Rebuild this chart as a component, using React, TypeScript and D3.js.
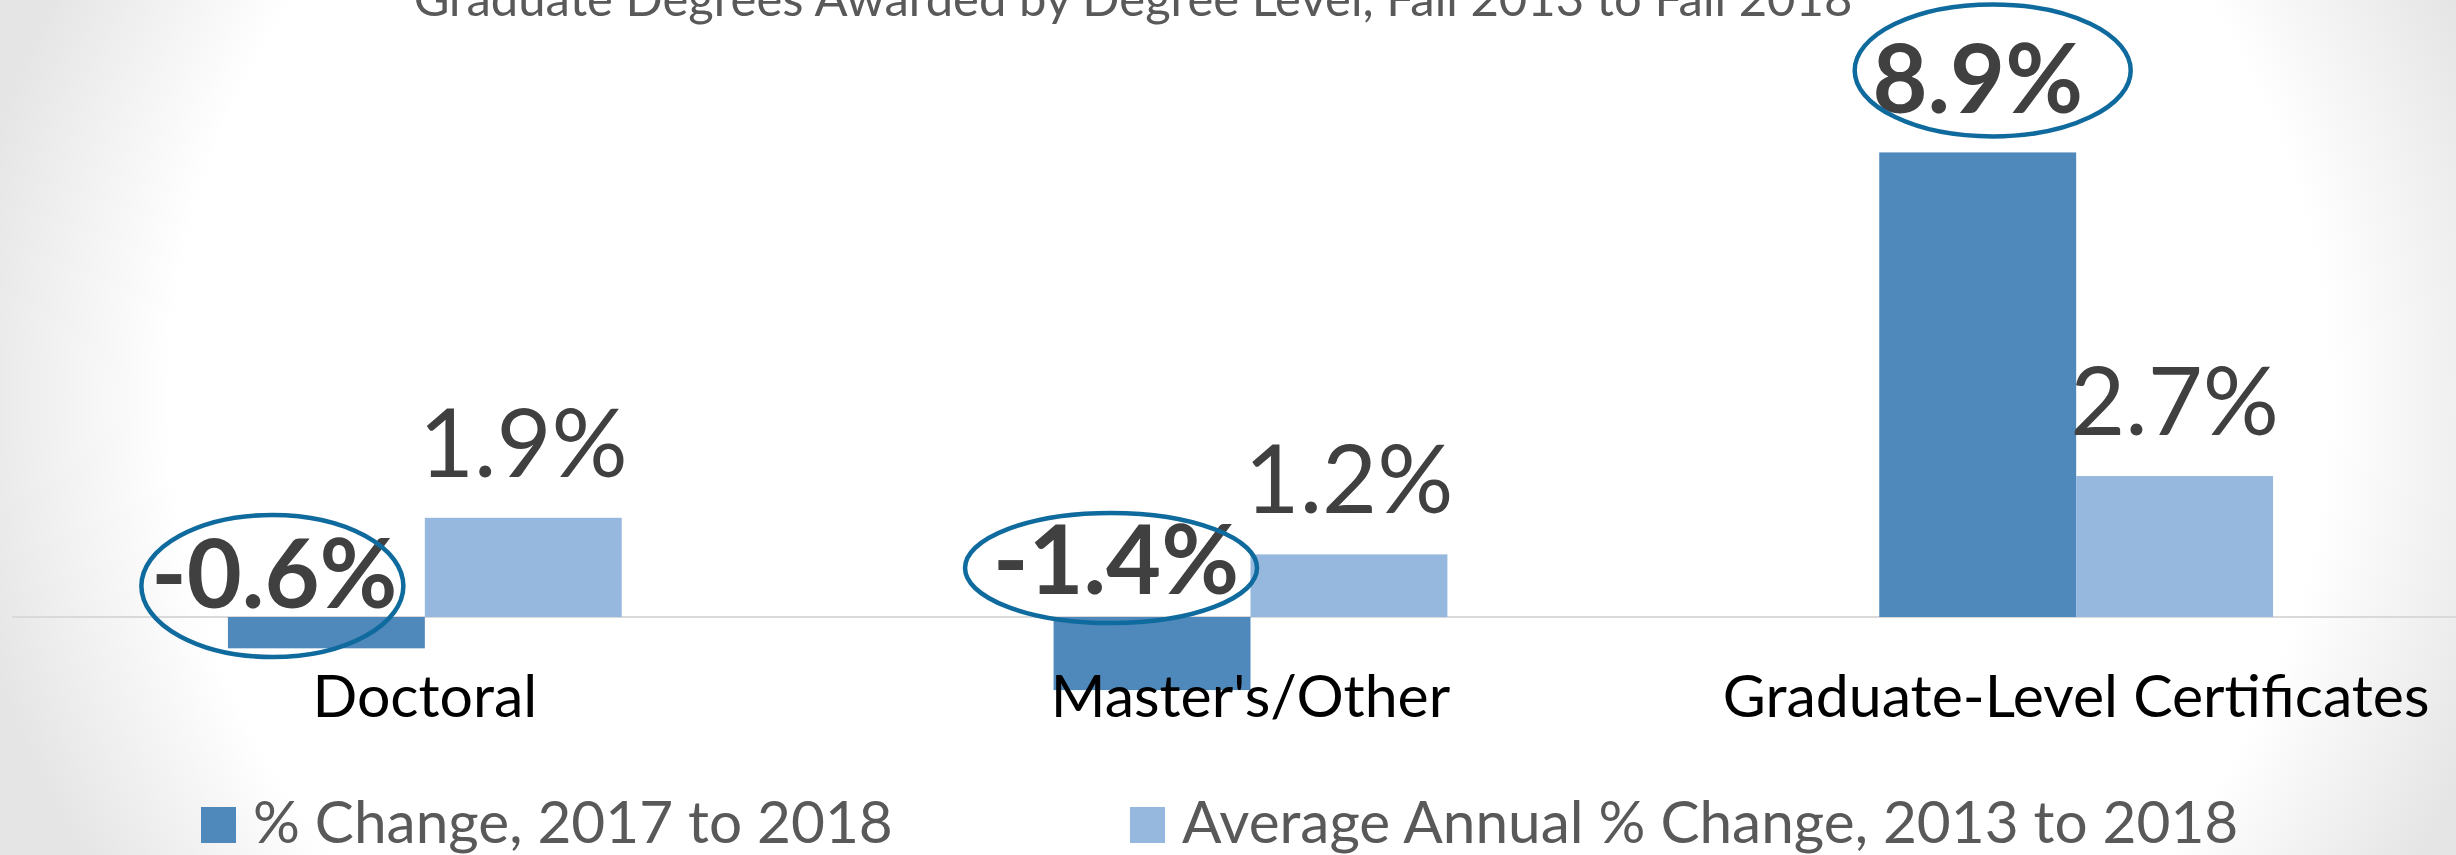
import { useEffect } from "react";
import * as d3 from "d3";

const categories = ["Doctoral", "Master's/Other", "Graduate-Level Certificates"];
const seriesNames = ["% Change, 2017 to 2018", "Average Annual % Change, 2013 to 2018"];
const change1yr = [-0.6, -1.4, 8.9];
const avgAnnual = [1.9, 1.2, 2.7];
const title = "Graduate Degrees Awarded by Degree Level, Fall 2013 to Fall 2018";

const W = 2456;
const H = 855;
const DARK = "#4f88bb";
const LIGHT = "#97b8de";
const RING = "#0f6a9d";
const FONT = "Lato, 'Open Sans', sans-serif";

// hand-placed callouts, as in the source slide
const calloutNudge = [
  { dx: -52, dy: -9, ex: -2, ey: -22, rx: 131, ry: 71 },
  { dx: -36, dy: -23, ex: -5, ey: -26, rx: 146, ry: 55 },
  { dx: 0, dy: 0, ex: 15, ey: -43, rx: 138, ry: 66 },
];

export default function App() {
  useEffect(() => {
    document.body.style.margin = "0";
    document.body.style.overflow = "hidden";
  }, []);

  const x0 = d3.scaleBand<string>()
    .domain(categories)
    .range([12, 2489])
    .paddingInner(0.523)
    .paddingOuter(0.2615);
  const x1 = d3.scaleBand<number>().domain([0, 1]).range([0, x0.bandwidth()]);
  const y = d3.scaleLinear().domain([-2, 10]).range([617 + 2 * 52.2, 617 - 10 * 52.2]);
  const y0 = y(0);

  const series = [change1yr, avgAnnual];

  return (
    <svg width={W} height={H} style={{ display: "block" }} fontFamily={FONT}>
      <defs>
        <radialGradient id="bg" gradientUnits="userSpaceOnUse" cx={1250} cy={400} r={1300}
          gradientTransform="translate(1250,400) scale(1,0.8) translate(-1250,-400)">
          <stop offset="0.83" stopColor="#ffffff" />
          <stop offset="1" stopColor="#e5e5e5" />
        </radialGradient>
      </defs>
      <rect x={0} y={0} width={W} height={H} fill="url(#bg)" />

      <text x={1133} y={16} textAnchor="middle" fontSize={49} fill="#595959">{title}</text>

      <line x1={12} x2={W} y1={y0} y2={y0} stroke="#d9d9d9" strokeWidth={2} />

      {categories.map((c, i) => (
        <g key={c} transform={`translate(${x0(c)},0)`}>
          {series.map((s, k) => {
            const v = s[i];
            return (
              <rect key={k} x={x1(k)} width={x1.bandwidth()}
                y={Math.min(y(v), y0)} height={Math.abs(y(v) - y0)}
                fill={k === 0 ? DARK : LIGHT} />
            );
          })}
        </g>
      ))}

      {/* average annual labels */}
      {categories.map((c, i) => (
        <text key={"a" + c} x={(x0(c) as number) + (x1(1) as number) + x1.bandwidth() / 2}
          y={y(avgAnnual[i]) - 41} textAnchor="middle" fontSize={95} fill="#404040">
          {avgAnnual[i].toFixed(1)}%
        </text>
      ))}

      {/* 1-year change labels with rings */}
      {categories.map((c, i) => {
        const v = change1yr[i];
        const n = calloutNudge[i];
        const cx = (x0(c) as number) + (x1(0) as number) + x1.bandwidth() / 2 + n.dx;
        const ty = (v >= 0 ? y(v) - 39 : y0) + n.dy;
        return (
          <g key={"c" + c}>
            <text x={cx} y={ty} textAnchor="middle" fontSize={95} fontWeight={700} fill="#404040">
              {v.toFixed(1)}%
            </text>
            <ellipse cx={cx + n.ex} cy={ty + n.ey} rx={n.rx} ry={n.ry}
              fill="none" stroke={RING} strokeWidth={4.5} />
          </g>
        );
      })}

      {categories.map((c) => (
        <text key={"x" + c} x={(x0(c) as number) + x0.bandwidth() / 2} y={717}
          textAnchor="middle" fontSize={59} fill="#000000">{c}</text>
      ))}

      {seriesNames.map((s, k) => {
        const lx = k === 0 ? 201 : 1130;
        return (
          <g key={s}>
            <rect x={lx} y={807} width={35} height={36} fill={k === 0 ? DARK : LIGHT} />
            <text x={lx + 52} y={843} fontSize={58.5} fill="#595959">{s}</text>
          </g>
        );
      })}
    </svg>
  );
}
